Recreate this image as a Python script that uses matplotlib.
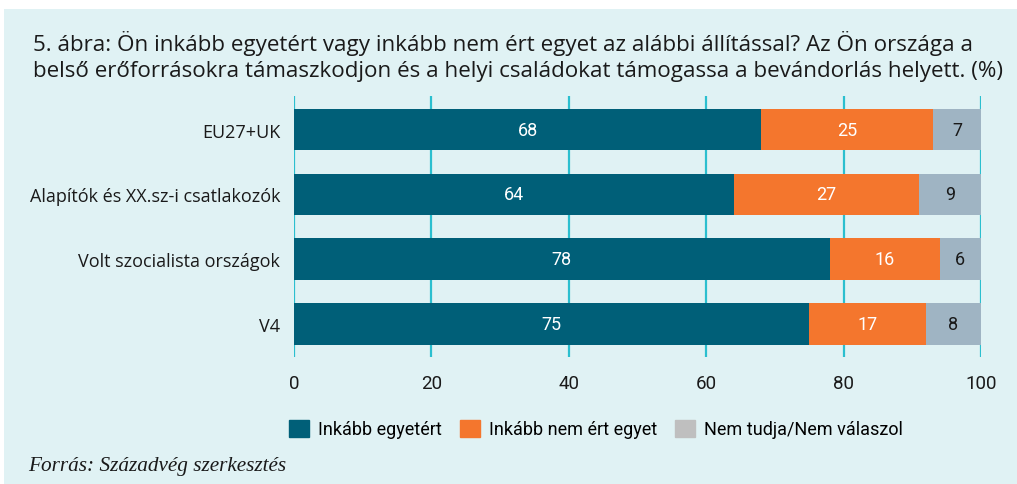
import matplotlib.pyplot as plt
from matplotlib.patches import Rectangle, Patch

categories = ["EU27+UK", "Alapítók és XX.sz-i csatlakozók", "Volt szocialista országok", "V4"]
agree = [68, 64, 78, 75]
disagree = [25, 27, 16, 17]
dont_know = [7, 9, 6, 8]
series_names = ["Inkább egyetért", "Inkább nem ért egyet", "Nem tudja/Nem válaszol"]
xticks = [0, 20, 40, 60, 80, 100]

bg = "#e0f2f4"
c_agree = "#005f78"
c_dis = "#f4762d"
c_dk = "#9fb4c3"
c_grid = "#2bbfcf"

fig = plt.figure(figsize=(10.17, 4.85), dpi=100)
fig.patch.set_facecolor("white")
fig.patches.append(Rectangle((4 / 1017, 0), 1, 1 - 10 / 485, transform=fig.transFigure,
                             facecolor=bg, edgecolor="none", zorder=-10))

ax = fig.add_axes([294 / 1017, 1 - 358 / 485, 687 / 1017, 261 / 485])
ax.set_facecolor("none")

y = list(range(len(categories)))
h = 0.64
ax.barh(y, agree, height=h, color=c_agree, zorder=3)
ax.barh(y, disagree, left=agree, height=h, color=c_dis, zorder=3)
left2 = [a + d for a, d in zip(agree, disagree)]
ax.barh(y, dont_know, left=left2, height=h, color=c_dk, zorder=3)

lab_font = ["Roboto", "DejaVu Sans"]
for i in y:
    ax.text(agree[i] / 2, i, str(agree[i]), ha="center", va="center", color="white",
            fontsize=13, family=lab_font, zorder=4)
    ax.text(agree[i] + disagree[i] / 2, i, str(disagree[i]), ha="center", va="center",
            color="white", fontsize=13, family=lab_font, zorder=4)
    ax.text(left2[i] + dont_know[i] / 2, i, str(dont_know[i]), ha="center", va="center",
            color="#1a1a1a", fontsize=13, family=lab_font, zorder=4)

ax.set_xlim(0, 100)
ax.set_ylim(3.51, -0.52)
ax.set_xticks(xticks)
ax.set_yticks(y)
ax.set_yticklabels(categories, fontsize=13, family=["Open Sans", "DejaVu Sans"], color="#1a1a1a")
ax.tick_params(axis="y", length=0, pad=10)
ax.tick_params(axis="x", length=0, pad=12, labelsize=13.5, labelcolor="#1a1a1a")
for lbl in ax.get_xticklabels():
    lbl.set_family(lab_font)
ax.grid(axis="x", color=c_grid, linewidth=1.6, zorder=1)
for s in ax.spines.values():
    s.set_visible(False)

title_font = ["Open Sans", "DejaVu Sans"]
fig.text(33 / 1017, 1 - 44 / 485,
         "5. ábra: Ön inkább egyetért vagy inkább nem ért egyet az alábbi állítással? Az Ön országa a",
         fontsize=16.1, family=title_font, va="center", color="#1a1a1a")
fig.text(33 / 1017, 1 - 72 / 485,
         "belső erőforrásokra támaszkodjon és a helyi családokat támogassa a bevándorlás helyett. (%)",
         fontsize=16.1, family=title_font, va="center", color="#1a1a1a")

handles = [Patch(color=c_agree), Patch(color=c_dis), Patch(color="#bfbfbf")]
fig.legend(handles, series_names, loc="center", bbox_to_anchor=(596 / 1017, 1 - 430 / 485),
           ncol=3, frameon=False, handlelength=1.1, handleheight=1.1,
           handletextpad=0.5, columnspacing=1.0,
           prop={"family": lab_font, "size": 13})

fig.text(28 / 1017, 1 - 467 / 485, "Forrás: Századvég szerkesztés", fontsize=15.3,
         family="Liberation Serif", style="italic", va="center", color="#1a1a1a")

fig.savefig("out.png", dpi=100)
